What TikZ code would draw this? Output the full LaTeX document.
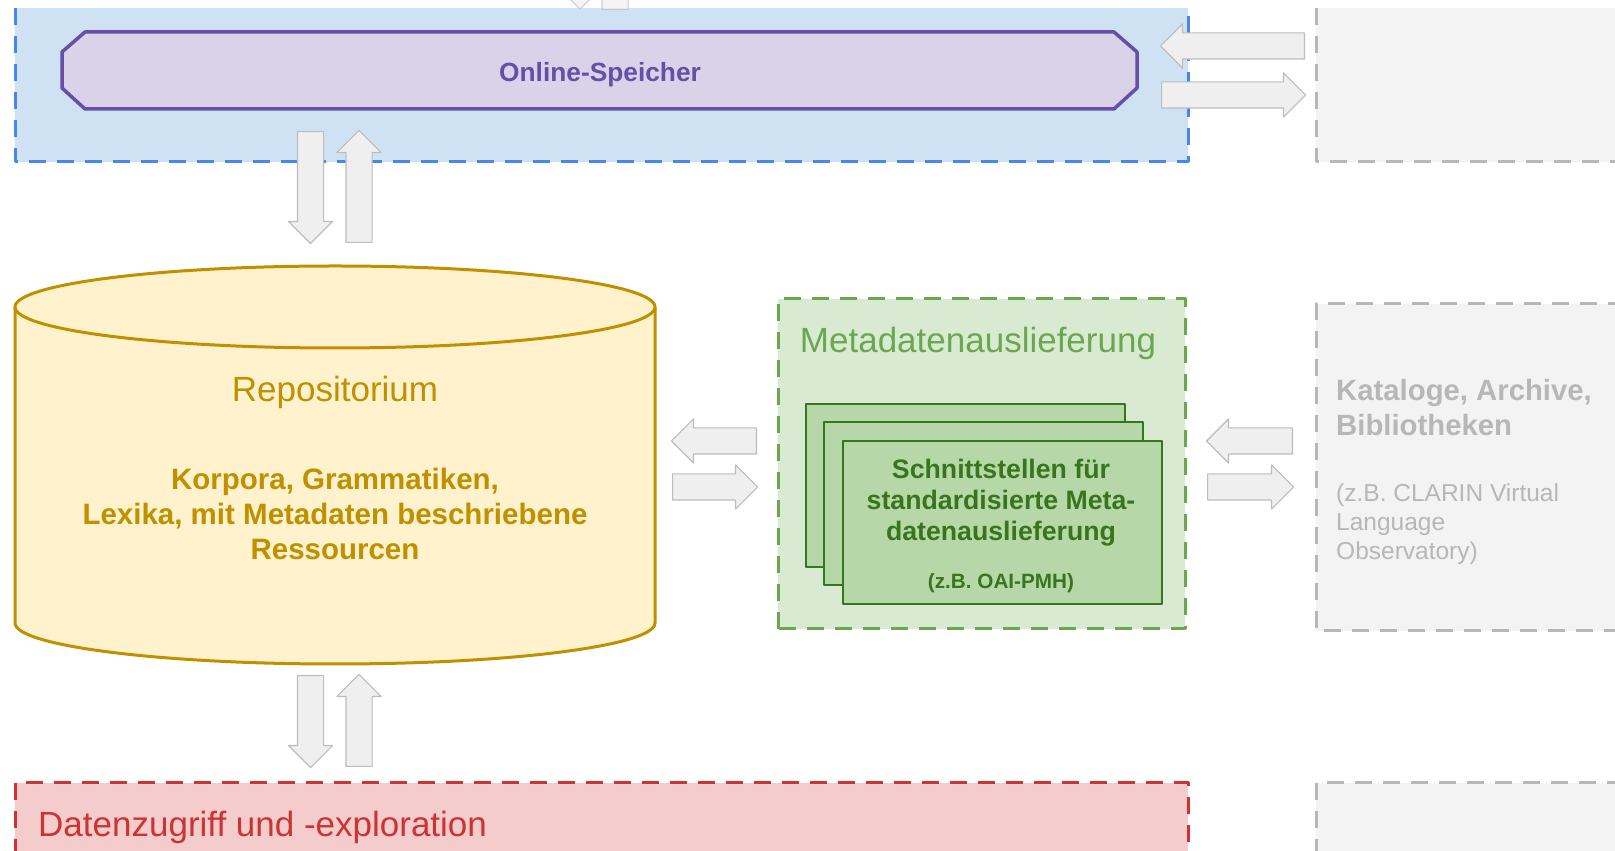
\documentclass[tikz,border=0pt]{standalone}
\usepackage{fontspec}
\setmainfont{Liberation Sans}
\usetikzlibrary{shapes.arrows}

\definecolor{storefill}{HTML}{CFE2F3}
\definecolor{storeline}{HTML}{4A86E8}
\definecolor{onlinefill}{HTML}{D9D2E9}
\definecolor{onlineline}{HTML}{674EA7}
\definecolor{repofill}{HTML}{FFF2CC}
\definecolor{repoline}{HTML}{BF9000}
\definecolor{metafill}{HTML}{D9EAD3}
\definecolor{metaline}{HTML}{6AA84F}
\definecolor{ifacefill}{HTML}{B6D7A8}
\definecolor{ifaceline}{HTML}{38761D}
\definecolor{accessfill}{HTML}{F4CCCC}
\definecolor{accessline}{HTML}{CC3333}
\definecolor{extfill}{HTML}{F3F3F3}
\definecolor{extline}{HTML}{B7B7B7}
\definecolor{arrowfill}{HTML}{EFEFEF}
\definecolor{arrowline}{HTML}{BDBDBD}

\tikzset{
  zone/.style={line width=3pt, dash pattern=on 17pt off 11pt},
  bigarrow/.style={single arrow, draw=arrowline, fill=arrowfill, line width=1.2pt,
    inner xsep=0pt, inner ysep=12.5pt, single arrow head extend=9pt,
    single arrow tip angle=90, minimum height=#1, anchor=tail},
  iface/.style={draw=ifaceline, fill=ifacefill, line width=2pt, minimum width=319pt, minimum height=163pt},
  bigtext/.style={font=\fontsize{35}{42}\selectfont, inner sep=0pt},
}

\begin{document}
\begin{tikzpicture}[x=1pt, y=1pt, line join=round]
\useasboundingbox (0,0) rectangle (1615,851);
\clip (0,0) rectangle (1615,851);

% Online-Speicher zone
\fill[storefill] (15,689) rectangle (1188,843);
\draw[storeline, zone] (15,843)--(15,689)--(1188,689)--(1188,843);
\node[bigarrow=112pt, rotate=-90, anchor=tip, opacity=0.7] (upin) at (580,841) {};
\node[bigarrow=112pt, rotate=90, opacity=0.7] (upout) at (615,841) {};
\draw[onlineline, fill=onlinefill, line width=3.5pt] (85,819)--(1114,819)--(1137,799)--(1137,763)--(1114,742)--(85,742)--(62,763)--(62,799)--cycle;
\node[text=onlineline, font=\bfseries\fontsize{26.3}{31}\selectfont] (store) at (600,776) {Online-Speicher};

% external zones
\fill[extfill] (1316,689) rectangle (1625,843);
\draw[extline, zone] (1316,843)--(1316,689)--(1625,689);
\fill[extfill] (1316,220) rectangle (1625,547);
\draw[extline, zone] (1625,547)--(1316,547)--(1316,220)--(1625,220);
\fill[extfill] (1316,-5) rectangle (1625,68);
\draw[extline, zone] (1316,-5)--(1316,68)--(1625,68);
\node[bigarrow=144pt, rotate=180] (extin) at (1305,805) {};
\node[bigarrow=144pt] (extout) at (1161,756) {};

% Repositorium
\fill[repofill] (15,544)--(15,228) arc[start angle=180, end angle=360, x radius=320pt, y radius=41pt]
  --(655,544) arc[start angle=0, end angle=180, x radius=320pt, y radius=41pt]--cycle;
\draw[repoline, line width=3pt] (15,544)--(15,228) arc[start angle=180, end angle=360, x radius=320pt, y radius=41pt]--(655,544);
\draw[repoline, line width=3pt] (335,544) ellipse[x radius=320pt, y radius=41pt];
\node[bigtext, text=repoline] (repo) at (335,459) {Repositorium};
\node[text=repoline, align=center, inner sep=0pt, font=\bfseries\fontsize{29.5}{35}\selectfont] (repodata) at (335,337)
  {Korpora, Grammatiken,\\Lexika, mit Metadaten beschriebene\\Ressourcen};
\node[bigarrow=112pt, rotate=-90] (todown) at (310.5,720) {};
\node[bigarrow=112pt, rotate=90] (toup) at (359,608) {};
\node[bigarrow=92pt, rotate=-90] (accdown) at (310.5,176) {};
\node[bigarrow=92pt, rotate=90] (accup) at (359,84) {};

% Metadatenauslieferung
\draw[metaline, fill=metafill, zone] (778,222) rectangle (1185,552);
\node[bigtext, text=metaline] (meta) at (978,508) {Metadatenauslieferung};
\node[iface] (iface1) at (965.5,365) {};
\node[iface] (iface2) at (983.5,347.5) {};
\node[iface] (iface3) at (1002,328.5) {};
\node[text=ifaceline, align=center, inner sep=0pt, font=\bfseries\fontsize{26.7}{31}\selectfont] (ifacetext) at (1001,348)
  {Schnittstellen für\\standardisierte Meta-\\datenauslieferung};
\node[text=ifaceline, inner sep=0pt, font=\bfseries\fontsize{20.7}{25}\selectfont] (oai) at (1001,268) {(z.B. OAI-PMH)};
\node[bigarrow=85pt, rotate=180] (metain) at (757,410) {};
\node[bigarrow=85pt] (metaout) at (672,364) {};
\node[bigarrow=86pt, rotate=180] (catin) at (1293,410) {};
\node[bigarrow=86pt] (catout) at (1207,364) {};
\node[text=extline, anchor=west, align=left, inner sep=0pt, font=\bfseries\fontsize{29.3}{35}\selectfont] (catalog) at (1336,443)
  {Kataloge, Archive,\\Bibliotheken};
\node[text=extline, anchor=west, align=left, inner sep=0pt, font=\fontsize{24.5}{29}\selectfont] (clarin) at (1336,327)
  {(z.B. CLARIN Virtual\\Language\\Observatory)};

% Datenzugriff
\fill[accessfill] (15,-5) rectangle (1188,68);
\draw[accessline, zone] (15,-5)--(15,68)--(1188,68)--(1188,-5);
\node[bigtext, text=accessline, anchor=west] (access) at (38,24) {Datenzugriff und -exploration};
\end{tikzpicture}
\end{document}
